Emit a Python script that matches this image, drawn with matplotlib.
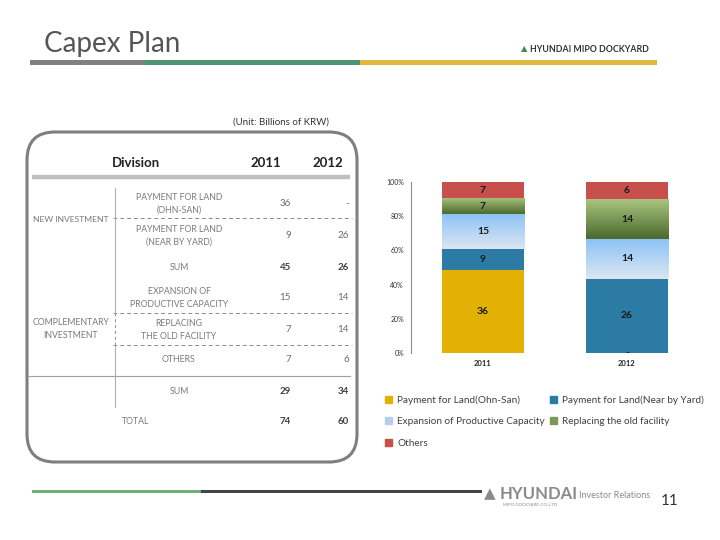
import numpy as np
import matplotlib.pyplot as plt
from matplotlib.patches import Rectangle, FancyBboxPatch, Patch
from matplotlib.colors import LinearSegmentedColormap

plt.rcParams['font.family'] = ['Lato', 'DejaVu Sans']

# chart data (billions of KRW)
years = ['2011', '2012']
series = ['Payment for Land(Ohn-San)', 'Payment for Land(Near by Yard)',
          'Expansion of Productive Capacity', 'Replacing the old facility', 'Others']
ohn_san = [36, 0]
near_yard = [9, 26]
expansion = [15, 14]
replacing = [7, 14]
others = [7, 6]

# table data
row_labels = ['PAYMENT FOR LAND\n(OHN-SAN)', 'PAYMENT FOR LAND\n(NEAR BY YARD)', 'SUM',
              'EXPANSION OF\nPRODUCTIVE CAPACITY', 'REPLACING\nTHE OLD FACILITY',
              'OTHERS', 'SUM', 'TOTAL']
col_2011 = ['36', '9', '45', '15', '7', '7', '29', '74']
col_2012 = ['-', '26', '26', '14', '14', '6', '34', '60']
bold_rows = [2, 6, 7]

fig = plt.figure(figsize=(7.2, 5.4), dpi=100)
bg = fig.add_axes([0, 0, 1, 1])
bg.set_xlim(0, 720)
bg.set_ylim(540, 0)
bg.axis('off')

# header
bg.text(44, 44, 'Capex Plan', fontsize=20, color='#555555', va='center', ha='left')
bg.add_patch(Rectangle((30, 59.5), 115, 5, color='#808080', lw=0))
bg.add_patch(Rectangle((145, 59.5), 215, 5, color='#4E9673', lw=0))
bg.add_patch(Rectangle((360, 59.5), 297, 5, color='#DDB83C', lw=0))
bg.text(521, 49, '▲', fontsize=6, color='#3E8E4E', va='center', ha='left', family='DejaVu Sans')
bg.text(530, 49, 'HYUNDAI MIPO DOCKYARD', fontsize=6.3, color='#333333', va='center',
        ha='left', fontweight='bold')

bg.text(281, 122, '(Unit: Billions of KRW)', fontsize=7, color='#333333', ha='center', va='center')

# table box
bg.add_patch(FancyBboxPatch((27, 132), 330, 330, boxstyle='round,pad=0,rounding_size=28',
                            fc='white', ec='#7F7F7F', lw=2.2))
bg.text(136, 163, 'Division', fontsize=9.5, fontweight='bold', color='#222222', ha='center', va='center')
bg.text(266, 163, years[0], fontsize=9.5, fontweight='bold', color='#222222', ha='center', va='center')
bg.text(328, 163, years[1], fontsize=9.5, fontweight='bold', color='#222222', ha='center', va='center')
bg.plot([32, 350], [177, 177], color='#C0C0C0', lw=3.2, solid_capstyle='butt')

row_y = [204, 236, 267, 298, 330, 360, 391, 422]
for i, (lab, a, b) in enumerate(zip(row_labels, col_2011, col_2012)):
    lx = 136 if lab == 'TOTAL' else 179
    bg.text(lx, row_y[i], lab, fontsize=6.3, color='#7A7A7A', ha='center', va='center',
            linespacing=1.45)
    c = '#404040' if i in bold_rows else '#6A6A6A'
    w = 'bold' if i in bold_rows else 'normal'
    bg.text(291, row_y[i], a, fontsize=7, color=c, ha='right', va='center', fontweight=w)
    bg.text(349, row_y[i], b, fontsize=7, color=c, ha='right', va='center', fontweight=w)

bg.text(71, 220, 'NEW INVESTMENT', fontsize=6.1, color='#7A7A7A', ha='center', va='center')
bg.text(71, 329, 'COMPLEMENTARY\nINVESTMENT', fontsize=6.3, color='#7A7A7A', ha='center',
        va='center', linespacing=1.6)

for yy in [218, 313, 345]:
    bg.plot([113, 352], [yy, yy], color='#8C8C8C', lw=0.7, ls=(0, (4, 3)))
bg.plot([28, 350], [376, 376], color='#A0A0A0', lw=0.8)
bg.plot([115, 115], [188, 313], color='#B0B0B0', lw=0.8)
bg.plot([115, 115], [313, 345], color='#8C8C8C', lw=0.7, ls=(0, (3, 3)))
bg.plot([115, 115], [345, 407], color='#B0B0B0', lw=0.8)

# footer
bg.add_patch(Rectangle((32, 489.5), 169, 3, color='#6DAF7B', lw=0))
bg.add_patch(Rectangle((201, 489.5), 281, 3, color='#444444', lw=0))
bg.text(484, 494, '▲', fontsize=11, color='#8A8A8A', va='center', ha='left', family='DejaVu Sans')
bg.text(500, 494, 'HYUNDAI', fontsize=12, fontweight='bold', color='#8A8A8A', va='center', ha='left')
bg.text(503, 504, 'MIPO DOCKYARD CO.,LTD', fontsize=3.2, color='#8A8A8A', va='center', ha='left')
bg.text(579, 495, 'Investor Relations', fontsize=6.5, color='#8A8A8A', va='center', ha='left')
bg.text(670, 501, '11', fontsize=11, color='#333333', va='center', ha='center')

# stacked 100% chart
ax = fig.add_axes([411 / 720, 1 - 353 / 540, 288 / 720, 171 / 540])
data = np.array([ohn_san, near_yard, expansion, replacing, others], dtype=float)
totals = data.sum(axis=0)
pct = data / totals * 100
colors = ['#E2B104', '#2B7BA4', '#B7CFEA', '#7C9A57', '#C7504C']
gradients = {2: ('#DCE6F2', '#8DC3F6'), 3: ('#4C6A2E', '#A9C47E')}
x = np.arange(len(years))
bottom = np.zeros(len(years))
handles = []
for k in range(len(series)):
    bars = ax.bar(x, pct[k], 0.57, bottom=bottom, color=colors[k], label=series[k], zorder=2)
    handles.append(Patch(color=colors[k], label=series[k]))
    if k in gradients:
        lo, hi = gradients[k]
        cmap = LinearSegmentedColormap.from_list('g%d' % k, [lo, hi])
        for b in bars:
            grad = np.linspace(0, 1, 64).reshape(-1, 1)
            im = ax.imshow(grad, cmap=cmap, origin='lower', aspect='auto', zorder=3,
                           extent=(b.get_x(), b.get_x() + b.get_width(),
                                   b.get_y(), b.get_y() + b.get_height()))
            im.set_clip_path(b)
    for j, b in enumerate(bars):
        v = data[k, j]
        lab = '-' if v == 0 else '%d' % v
        ax.text(b.get_x() + b.get_width() / 2, b.get_y() + b.get_height() / 2, lab,
                ha='center', va='center', fontsize=7.5, fontweight='bold', color='#1A1A1A', zorder=4)
    bottom += pct[k]

ax.set_xlim(-0.5, 1.5)
ax.set_ylim(0, 100)
ax.set_xticks(x)
ax.set_xticklabels(years, fontsize=5.5, fontweight='bold', color='#222222')
ax.set_yticks([0, 20, 40, 60, 80, 100])
ax.set_yticklabels(['%d%%' % v for v in [0, 20, 40, 60, 80, 100]], fontsize=5, color='#333333')
ax.tick_params(length=0, pad=5)
for s in ['top', 'right', 'bottom']:
    ax.spines[s].set_visible(False)
ax.spines['left'].set_color('#8C8C8C')
ax.spines['left'].set_linewidth(0.8)
ax.patch.set_alpha(0)

order = [0, 2, 4, 1, 3]
fig.legend([handles[i] for i in order], [series[i] for i in order], ncol=2,
           loc='upper left', bbox_to_anchor=(381 / 720, 1 - 391 / 540), frameon=False,
           fontsize=7.2, handlelength=0.7, handleheight=0.7, handletextpad=0.5,
           columnspacing=0.5, labelspacing=1.25, labelcolor='#404040', borderaxespad=0)

fig.savefig('out.png', dpi=100)
